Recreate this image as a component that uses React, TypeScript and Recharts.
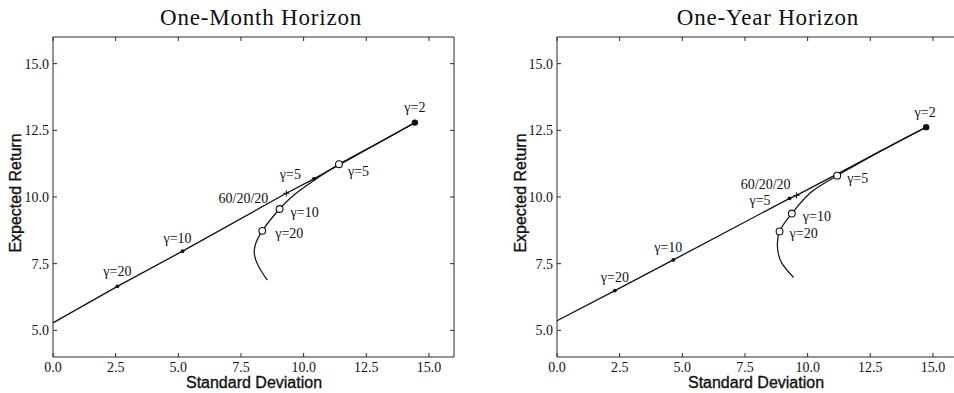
import { ComposedChart, Line, Scatter, XAxis, YAxis } from "recharts";

type Pt = { sd: number; ret: number };
type Kind = "dot" | "big" | "circle" | "plus";
type Mark = { sd: number; ret: number; label: string; kind: Kind };
type Place = [anchor: "start" | "middle" | "end", dx: number, dy: number];

const sdTicks = [0, 2.5, 5, 7.5, 10, 12.5, 15];
const retTicks = [5, 7.5, 10, 12.5, 15];

// one-month horizon
const monthLine: Pt[] = [
  { sd: 0, ret: 5.28 },
  { sd: 2.57, ret: 6.65 },
  { sd: 5.17, ret: 7.97 },
  { sd: 9.31, ret: 10.14 },
  { sd: 10.41, ret: 10.68 },
  { sd: 14.44, ret: 12.79 },
];
const monthCurve: Pt[] = [
  { sd: 8.55, ret: 6.88 },
  { sd: 8.2, ret: 7.4 },
  { sd: 8.03, ret: 8.0 },
  { sd: 8.35, ret: 8.73 },
  { sd: 9.04, ret: 9.55 },
  { sd: 9.65, ret: 10.1 },
  { sd: 10.38, ret: 10.6 },
  { sd: 11.41, ret: 11.23 },
  { sd: 12.9, ret: 11.99 },
  { sd: 14.44, ret: 12.79 },
];
const monthMarks: Mark[] = [
  { sd: 2.57, ret: 6.65, label: "γ=20", kind: "dot" },
  { sd: 5.17, ret: 7.97, label: "γ=10", kind: "dot" },
  { sd: 9.31, ret: 10.14, label: "60/20/20", kind: "plus" },
  { sd: 10.41, ret: 10.68, label: "γ=5", kind: "dot" },
  { sd: 14.44, ret: 12.79, label: "γ=2", kind: "big" },
  { sd: 8.35, ret: 8.73, label: "γ=20", kind: "circle" },
  { sd: 9.04, ret: 9.55, label: "γ=10", kind: "circle" },
  { sd: 11.41, ret: 11.23, label: "γ=5", kind: "circle" },
];
const monthPlaces: Place[] = [
  ["middle", 0, -10],
  ["middle", -5, -8],
  ["end", -18, 10],
  ["end", -13, 0],
  ["middle", 0, -11],
  ["start", 13, 7],
  ["start", 11, 8],
  ["start", 9, 12],
];

// one-year horizon
const yearLine: Pt[] = [
  { sd: 0, ret: 5.36 },
  { sd: 2.31, ret: 6.49 },
  { sd: 4.64, ret: 7.64 },
  { sd: 9.28, ret: 9.95 },
  { sd: 9.56, ret: 10.06 },
  { sd: 14.73, ret: 12.62 },
];
const yearCurve: Pt[] = [
  { sd: 9.44, ret: 6.98 },
  { sd: 8.97, ret: 7.52 },
  { sd: 8.8, ret: 8.08 },
  { sd: 8.88, ret: 8.71 },
  { sd: 9.37, ret: 9.38 },
  { sd: 10.1, ret: 10.15 },
  { sd: 11.18, ret: 10.8 },
  { sd: 12.9, ret: 11.72 },
  { sd: 14.73, ret: 12.62 },
];
const yearMarks: Mark[] = [
  { sd: 2.31, ret: 6.49, label: "γ=20", kind: "dot" },
  { sd: 4.64, ret: 7.64, label: "γ=10", kind: "dot" },
  { sd: 9.56, ret: 10.06, label: "60/20/20", kind: "plus" },
  { sd: 9.28, ret: 9.95, label: "γ=5", kind: "dot" },
  { sd: 14.73, ret: 12.62, label: "γ=2", kind: "big" },
  { sd: 8.88, ret: 8.71, label: "γ=20", kind: "circle" },
  { sd: 9.37, ret: 9.38, label: "γ=10", kind: "circle" },
  { sd: 11.18, ret: 10.8, label: "γ=5", kind: "circle" },
];
const yearPlaces: Place[] = [
  ["middle", 0, -9],
  ["middle", -5, -8],
  ["end", -6, -6],
  ["end", -19, 7],
  ["middle", -1, -10],
  ["start", 10, 7],
  ["start", 11, 7],
  ["start", 10, 7],
];

const serif = "Liberation Serif";
const sans = "Liberation Sans";
const ink = "#111";
const frame = "#2a2a2a";

function markShape(marks: Mark[], places: Place[]) {
  return (props: any) => {
    const { cx, cy, payload } = props;
    const i = marks.findIndex((m) => m.sd === payload?.sd && m.ret === payload?.ret);
    const m = marks[i];
    if (!m) return <g />;
    const [anchor, dx, dy] = places[i];
    let glyph;
    if (m.kind === "big") glyph = <circle cx={cx} cy={cy} r={3.2} fill={ink} />;
    else if (m.kind === "dot") glyph = <circle cx={cx} cy={cy} r={1.9} fill={ink} />;
    else if (m.kind === "circle")
      glyph = <circle cx={cx} cy={cy} r={3.4} fill="#fff" stroke={ink} strokeWidth={1.1} />;
    else
      glyph = (
        <g stroke={ink} strokeWidth={1}>
          <line x1={cx - 3} y1={cy} x2={cx + 3} y2={cy} />
          <line x1={cx} y1={cy - 3} x2={cx} y2={cy + 3} />
        </g>
      );
    return (
      <g>
        {glyph}
        <text
          x={cx + dx}
          y={cy + dy}
          textAnchor={anchor}
          style={{ fontFamily: serif, fontSize: 14 }}
          fill={ink}
        >
          {m.label}
        </text>
      </g>
    );
  };
}

const XTick = (props: any) => (
  <text
    x={props.x}
    y={props.y + 10}
    textAnchor="middle"
    style={{ fontFamily: serif, fontSize: 14 }}
    fill={ink}
  >
    {Number(props.payload.value).toFixed(1)}
  </text>
);

const YTick = (props: any) => (
  <text
    x={props.x}
    y={props.y + 5}
    textAnchor="end"
    style={{ fontFamily: serif, fontSize: 14 }}
    fill={ink}
  >
    {Number(props.payload.value).toFixed(1)}
  </text>
);

const NoTick = () => <g />;

type PanelProps = {
  line: Pt[];
  curve: Pt[];
  marks: Mark[];
  places: Place[];
  width: number;
  marginLeft: number;
  marginRight: number;
};

function Panel({ line, curve, marks, places, width, marginLeft, marginRight }: PanelProps) {
  return (
    <ComposedChart
      width={width}
      height={393}
      margin={{ top: 36, right: marginRight, bottom: 16, left: marginLeft }}
    >
      <XAxis
        type="number"
        dataKey="sd"
        domain={[0, 16]}
        ticks={sdTicks}
        interval={0}
        height={20}
        tickSize={-4}
        tickMargin={9}
        tick={XTick}
        axisLine={{ stroke: frame }}
        tickLine={{ stroke: frame }}
      />
      <XAxis
        xAxisId="top"
        orientation="top"
        type="number"
        dataKey="sd"
        domain={[0, 16]}
        ticks={sdTicks}
        interval={0}
        height={1}
        tickSize={-4}
        tick={NoTick}
        axisLine={{ stroke: frame }}
        tickLine={{ stroke: frame }}
      />
      <YAxis
        type="number"
        domain={[4, 16]}
        ticks={retTicks}
        interval={0}
        width={40}
        tickSize={-4}
        tickMargin={8}
        tick={YTick}
        axisLine={{ stroke: frame }}
        tickLine={{ stroke: frame }}
      />
      <YAxis
        yAxisId="right"
        orientation="right"
        type="number"
        domain={[4, 16]}
        ticks={retTicks}
        interval={0}
        width={1}
        tickSize={-4}
        tick={NoTick}
        axisLine={{ stroke: frame }}
        tickLine={{ stroke: frame }}
      />
      <Line
        data={line}
        dataKey="ret"
        type="linear"
        stroke={ink}
        strokeWidth={1.3}
        dot={false}
        activeDot={false}
        isAnimationActive={false}
      />
      <Line
        data={curve}
        dataKey="ret"
        type="natural"
        stroke={ink}
        strokeWidth={1.2}
        dot={false}
        activeDot={false}
        isAnimationActive={false}
      />
      <Scatter
        data={marks}
        dataKey="ret"
        xAxisId="top"
        yAxisId="right"
        shape={markShape(marks, places)}
        isAnimationActive={false}
      />
    </ComposedChart>
  );
}

const abs = (left: number, top: number): React.CSSProperties => ({
  position: "absolute",
  left,
  top,
});

export default function App() {
  const titleStyle: React.CSSProperties = {
    width: 300,
    textAlign: "center",
    fontFamily: serif,
    fontSize: 23,
    lineHeight: "23px",
    letterSpacing: 0.8,
    color: ink,
    whiteSpace: "nowrap",
  };
  const xLabel: React.CSSProperties = {
    width: 240,
    textAlign: "center",
    fontFamily: sans,
    fontSize: 16,
    lineHeight: "16px",
    color: ink,
    whiteSpace: "nowrap",
    WebkitTextStroke: "0.35px #111",
  };
  const yLabel: React.CSSProperties = {
    ...xLabel,
    width: 200,
    transform: "rotate(-90deg)",
  };
  return (
    <div
      style={{
        position: "absolute",
        left: 0,
        top: 0,
        width: 954,
        height: 393,
        overflow: "hidden",
        background: "#fff",
      }}
    >
      <div style={abs(0, 0)}>
        <Panel
          line={monthLine}
          curve={monthCurve}
          marks={monthMarks}
          places={monthPlaces}
          width={477}
          marginLeft={13}
          marginRight={22}
        />
      </div>
      <div style={abs(477, 0)}>
        <Panel
          line={yearLine}
          curve={yearCurve}
          marks={yearMarks}
          places={yearPlaces}
          width={490}
          marginLeft={40}
          marginRight={8}
        />
      </div>
      <div style={{ ...abs(111, 6), ...titleStyle }}>One-Month Horizon</div>
      <div style={{ ...abs(618, 6), ...titleStyle }}>One-Year Horizon</div>
      <div style={{ ...abs(134, 375), ...xLabel }}>Standard Deviation</div>
      <div style={{ ...abs(636, 375), ...xLabel }}>Standard Deviation</div>
      <div style={{ ...abs(-84.5, 185), ...yLabel }}>Expected Return</div>
      <div style={{ ...abs(420.8, 184.5), ...yLabel }}>Expected Return</div>
    </div>
  );
}
